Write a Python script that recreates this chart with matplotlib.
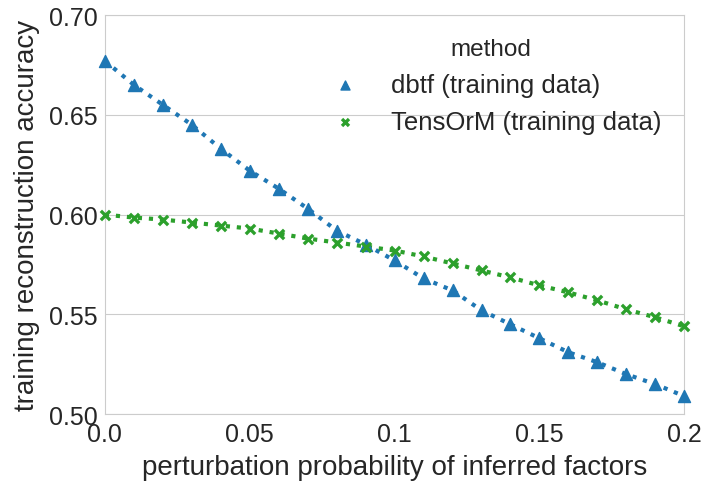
import numpy as np
import matplotlib
matplotlib.use("Agg")
import matplotlib.pyplot as plt
import seaborn as sns

# perturbation probability
prob = [0.0, 0.01, 0.02, 0.03, 0.04, 0.05, 0.06, 0.07, 0.08, 0.09, 0.10,
        0.11, 0.12, 0.13, 0.14, 0.15, 0.16, 0.17, 0.18, 0.19, 0.20]

# training reconstruction accuracy
dbtf_acc = [0.677, 0.665, 0.655, 0.645, 0.633, 0.622, 0.613, 0.603, 0.592, 0.585, 0.577,
            0.568, 0.562, 0.552, 0.545, 0.538, 0.531, 0.526, 0.520, 0.515, 0.509]
tensorm_acc = [0.600, 0.5985, 0.5975, 0.596, 0.5945, 0.593, 0.5905, 0.588, 0.586, 0.584, 0.582,
               0.579, 0.5755, 0.572, 0.5685, 0.5645, 0.561, 0.557, 0.5525, 0.5485, 0.544]

xticks = [0.0, 0.05, 0.1, 0.15, 0.2]
xtick_labels = ["0.0", "0.05", "0.1", "0.15", "0.2"]
yticks = [0.50, 0.55, 0.60, 0.65, 0.70]

sns.set_style("whitegrid")
plt.rcParams["font.family"] = ["Arial", "Liberation Sans", "DejaVu Sans"]

fig, ax = plt.subplots(figsize=(7.04, 4.85), dpi=100)

blue = "#1f77b4"
green = "#2ca02c"

ax.plot(prob, dbtf_acc, linestyle=":", linewidth=3, color=blue)
ax.plot(prob, tensorm_acc, linestyle=":", linewidth=3, color=green)
ax.scatter(prob, dbtf_acc, marker="^", s=75, color=blue, zorder=3,
           label="dbtf (training data)", clip_on=False)
ax.scatter(prob, tensorm_acc, marker="x", s=45, color=green, linewidths=2.4, zorder=3,
           label="TensOrM (training data)", clip_on=False)

ax.set_xlim(0, 0.2)
ax.set_ylim(0.5, 0.7)
ax.set_xticks(xticks)
ax.set_xticklabels(xtick_labels)
ax.set_yticks(yticks)
ax.grid(axis="x", visible=False)
ax.tick_params(labelsize=18, colors="#262626", pad=2)

ax.set_xlabel("perturbation probability of inferred factors", fontsize=20, color="#262626", labelpad=6)
ax.set_ylabel("training reconstruction accuracy", fontsize=20, color="#262626", labelpad=6)

leg = ax.legend(title="method", fontsize=18.5, title_fontsize=17.5, frameon=False,
                loc="upper left", bbox_to_anchor=(0.33, 1.0), markerscale=0.75)

plt.subplots_adjust(left=0.149, right=0.972, top=0.967, bottom=0.144)
fig.savefig("out.png", dpi=100)
